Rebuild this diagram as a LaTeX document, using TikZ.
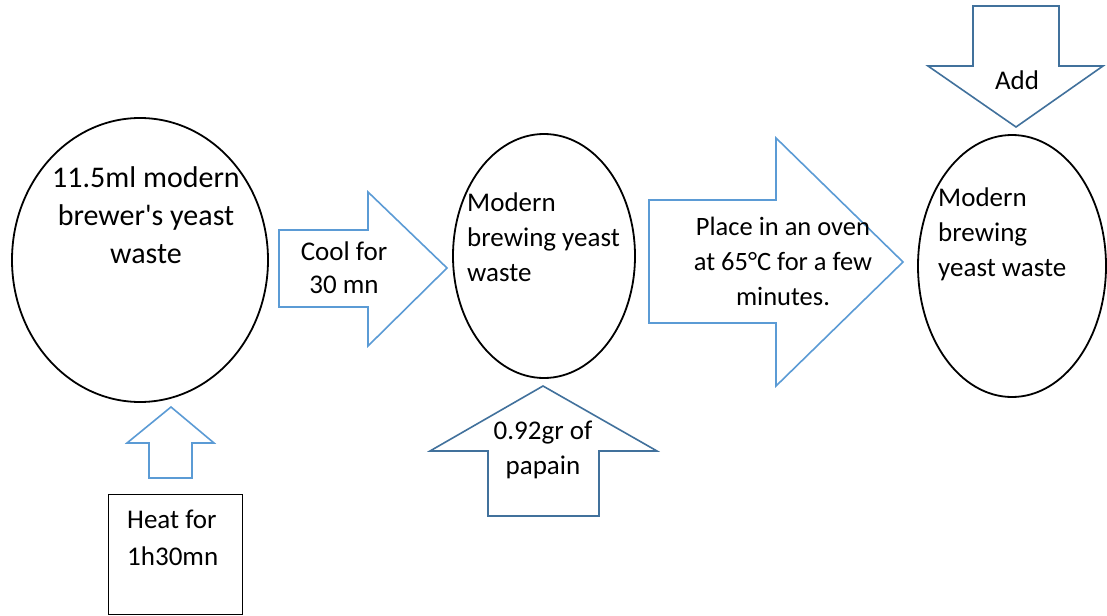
\documentclass[tikz,border=0pt]{standalone}
\usepackage{fontspec}
\setmainfont{Carlito}
\definecolor{lightarrow}{HTML}{5B9BD5}
\definecolor{darkarrow}{HTML}{41719C}
\begin{document}
\begin{tikzpicture}[x=1pt,y=-1pt,
  blob/.style={draw=black,line width=1.8pt},
  lightblock/.style={draw=lightarrow,line width=1.6pt,line join=miter},
  darkblock/.style={draw=darkarrow,line width=1.6pt,line join=miter},
  txt/.style={inner sep=0pt,font=\fontsize{27}{35}\selectfont},
  boxed/.style={draw=black,line width=0.8pt,minimum width=134pt,minimum height=120pt,inner sep=0pt}]
\useasboundingbox[fill=white] (0,0) rectangle (1107,615);
% ellipses
\draw[blob] (140,260) ellipse [x radius=128, y radius=142];
\draw[blob] (544,256) ellipse [x radius=91, y radius=122];
\draw[blob] (1012,266) ellipse [x radius=94, y radius=131];
% cool arrow
\draw[lightblock] (279,230) -- (368,230) -- (368,192) -- (447,268) -- (368,346) -- (368,307) -- (279,307) -- cycle;
% heat arrow
\draw[lightblock] (149,478) -- (149,443) -- (127,443) -- (171,407) -- (214,443) -- (192,443) -- (192,478) -- cycle;
% papain arrow
\draw[darkblock] (488,516) -- (488,451) -- (430,451) -- (543,386) -- (657,451) -- (599,451) -- (599,516) -- cycle;
% oven arrow
\draw[lightblock] (649,200) -- (776,200) -- (776,138) -- (903,262) -- (776,386) -- (776,323) -- (649,323) -- cycle;
% add arrow
\draw[darkblock] (973,6) -- (1059,6) -- (1059,66) -- (1103,66) -- (1016,127) -- (928,66) -- (973,66) -- cycle;
% box
\node[boxed] (heatbox) at (175,554) {};
% texts
\node[txt,align=center,font=\fontsize{30}{38}\selectfont] (t1) at (146,215) {11.5ml modern\\brewer\textquotesingle s yeast\\waste};
\node[txt,align=center,font=\fontsize{27}{33}\selectfont] (t2) at (344,268) {Cool for\\30 mn};
\node[txt,align=left,anchor=west,font=\fontsize{27}{37}\selectfont] (t3) at (127,538) {Heat for\\1h30mn};
\node[txt,align=left,anchor=west] (t4) at (467,237) {Modern\\brewing yeast\\waste};
\node[txt,align=center] (t5) at (543,450) {0.92gr of\\papain};
\node[txt,align=center,font=\fontsize{26.5}{35}\selectfont] (t6) at (783,261) {Place in an oven\\at 65°C for a few\\minutes.};
\node[txt,align=left,anchor=west] (t7) at (938,234) {Modern\\brewing\\yeast waste};
\node[txt] (t8) at (1017,80) {Add};
\end{tikzpicture}
\end{document}
